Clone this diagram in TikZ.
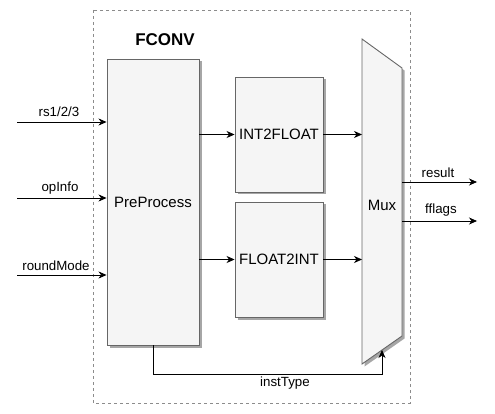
\documentclass[tikz,border=0pt]{standalone}
\usepackage{fontspec}
\setmainfont{Liberation Sans}
\usetikzlibrary{arrows.meta,shadows}

\definecolor{boxfill}{HTML}{F5F5F5}
\definecolor{boxline}{HTML}{666666}

\begin{document}
\begin{tikzpicture}[x=1pt,y=-1pt,
  block/.style={draw=boxline,fill=boxfill,line width=0.9pt,inner sep=0pt,
    drop shadow={shadow xshift=2.5pt,shadow yshift=-2.5pt,fill=black!35,opacity=1},
    font=\fontsize{15}{18}\selectfont},
  sig/.style={font=\fontsize{13.3}{16}\selectfont},
  wire/.style={line width=0.8pt,-{Stealth[length=8pt,width=7pt,inset=2.5pt]}}]
\useasboundingbox (0,0) rectangle (495,414);
\draw[black!45,line width=0.8pt,dash pattern=on 3pt off 3pt] (93,10) rectangle (410,403);
\node (title) at (165,40) [font=\bfseries\fontsize{17}{20}\selectfont] {FCONV};
\node (pre) at (153,202) [block,minimum width=92pt,minimum height=286pt] {PreProcess};
\node (itf) at (279,134.5) [block,minimum width=88pt,minimum height=115pt] {INT2FLOAT};
\node (fti) at (279,259.5) [block,minimum width=88pt,minimum height=115pt] {FLOAT2INT};
\coordinate (mux-tl) at (362,39);
\coordinate (mux-tr) at (402,68);
\coordinate (mux-br) at (402,336);
\coordinate (mux-bl) at (362,364);
\filldraw[draw=boxline,fill=boxfill,line width=0.9pt,
  drop shadow={shadow xshift=2.5pt,shadow yshift=-2.5pt,fill=black!35,opacity=1}]
  (mux-tl)--(mux-tr)--(mux-br)--(mux-bl)--cycle;
\node (mux) at (382,205) [font=\fontsize{15}{18}\selectfont] {Mux};
% inputs
\coordinate (rs) at (17,122);
\coordinate (op) at (17,198);
\coordinate (rm) at (17,275);
\draw[wire] (rs) -- (rs -| pre.west);
\draw[wire] (op) -- (op -| pre.west);
\draw[wire] (rm) -- (rm -| pre.west);
\node at (59,112) [sig] {rs1/2/3};
\node at (60,188) [sig] {opInfo};
\node at (56,266) [sig] {roundMode};
% inner paths
\draw[wire] (pre.east |- itf.west) -- (itf.west);
\draw[wire] (pre.east |- fti.west) -- (fti.west);
\draw[wire] (itf.east) -- (itf.east -| mux-tl);
\draw[wire] (fti.east) -- (fti.east -| mux-tl);
% outputs
\coordinate (res) at (477,182);
\coordinate (ff) at (477,221);
\draw[wire] (res -| mux-tr) -- (res);
\draw[wire] (ff -| mux-tr) -- (ff);
\node at (438,173) [sig] {result};
\node at (441,210) [sig] {fflags};
% select
\coordinate (sel) at (382,374);
\coordinate (mux-sel) at (382,350);
\draw[wire] (pre.south) |- (sel) -- (mux-sel);
\node at (285,383) [sig] {instType};
\end{tikzpicture}
\end{document}
